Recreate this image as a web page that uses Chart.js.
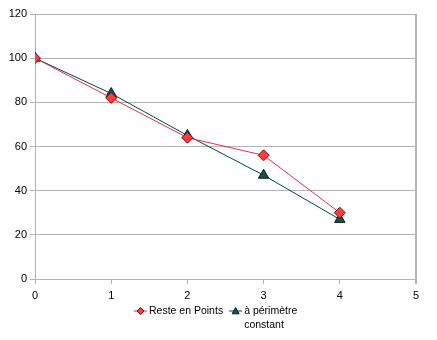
<!DOCTYPE html>
<html><head><meta charset="utf-8">
<script src="https://cdn.jsdelivr.net/npm/chart.js@4/dist/chart.umd.min.js"></script>
<style>html,body{margin:0;padding:0;background:#fff}#wrap{width:437px;height:340px;position:relative}</style>
</head><body><div id="wrap"><canvas id="c" width="437" height="340"></canvas></div>
<script>
const xValues = [0, 1, 2, 3, 4];
const resteEnPoints = [100, 82, 64, 56, 30];
const perimetreConstant = [100, 84, 65, 47, 27];
const seriesLabels = ["Reste en Points", "à périmètre constant"];
const legendLines = [["Reste en Points"], ["à périmètre", "constant"]];

const FONT = "'Liberation Sans', Arial, sans-serif";
const GRID = '#b3b3b3';

const rightBorder = {
  id: 'rightBorder',
  afterDraw(chart) {
    const {ctx, chartArea} = chart;
    ctx.save();
    ctx.strokeStyle = GRID; ctx.lineWidth = 2;
    ctx.beginPath();
    ctx.moveTo(chartArea.right, chartArea.top);
    ctx.lineTo(chartArea.right, chartArea.bottom + 5);
    ctx.stroke();
    ctx.restore();
  }
};

const customLegend = {
  id: 'customLegend',
  afterDraw(chart) {
    const ctx = chart.ctx;
    ctx.save();
    ctx.font = '10.5px ' + FONT;
    ctx.textBaseline = 'middle';
    const y = 311;
    const ds = chart.data.datasets;
    const items = [{x: 134, ds: ds[0], lines: legendLines[0]}, {x: 0, ds: ds[1], lines: legendLines[1]}];
    const w0 = ctx.measureText(legendLines[0][0]).width;
    items[1].x = 134 + 15 + w0 + 6;
    items.forEach(it => {
      const cx = it.x + 6.5;
      ctx.strokeStyle = it.ds.borderColor; ctx.lineWidth = 1;
      ctx.beginPath(); ctx.moveTo(it.x, y); ctx.lineTo(it.x + 13, y); ctx.stroke();
      ctx.fillStyle = it.ds.pointBackgroundColor; ctx.strokeStyle = it.ds.pointBorderColor;
      ctx.beginPath();
      const r = 3.5;
      if (it.ds.pointStyle === 'rectRot') {
        ctx.moveTo(cx, y - r); ctx.lineTo(cx + r, y); ctx.lineTo(cx, y + r); ctx.lineTo(cx - r, y); ctx.closePath();
      } else {
        ctx.moveTo(cx, y - r); ctx.lineTo(cx + r, y + r * 0.8); ctx.lineTo(cx - r, y + r * 0.8); ctx.closePath();
      }
      ctx.fill(); ctx.stroke();
      ctx.fillStyle = '#000';
      it.lines.forEach((t, i) => ctx.fillText(t, it.x + 15, y + i * 14));
    });
    ctx.restore();
  }
};

new Chart(document.getElementById('c'), {
  type: 'line',
  data: {
    datasets: [
      {
        label: seriesLabels[0],
        data: xValues.map((x, i) => ({x, y: resteEnPoints[i]})),
        borderColor: '#e0304a', borderWidth: 1,
        pointStyle: 'rectRot', pointRadius: 5.5, pointHoverRadius: 5.5,
        pointBackgroundColor: '#ff3b3b', pointBorderColor: '#7a1010', pointBorderWidth: 1,
        tension: 0
      },
      {
        label: seriesLabels[1],
        data: xValues.map((x, i) => ({x, y: perimetreConstant[i]})),
        borderColor: '#004848', borderWidth: 1,
        pointStyle: 'triangle', pointRadius: 6, pointHoverRadius: 6,
        pointBackgroundColor: '#1f4f45', pointBorderColor: '#002020', pointBorderWidth: 1,
        tension: 0
      }
    ]
  },
  options: {
    responsive: false, animation: false,
    layout: {padding: {top: 14, right: 21, left: 0, bottom: 0}},
    plugins: {legend: {display: false}, tooltip: {enabled: false}},
    scales: {
      x: {
        type: 'linear', min: 0, max: 5,
        ticks: {stepSize: 1, color: '#000', font: {family: FONT, size: 11}, padding: 5, maxRotation: 0},
        grid: {drawOnChartArea: false, color: GRID, tickLength: 5},
        border: {color: GRID, width: 1},
        afterFit(s) { s.height = 61; }
      },
      y: {
        min: 0, max: 120,
        ticks: {stepSize: 20, color: '#000', font: {family: FONT, size: 11}, padding: 3},
        grid: {color: GRID, tickLength: 5},
        border: {color: GRID, width: 1},
        afterFit(s) { s.width = 35; }
      }
    }
  },
  plugins: [rightBorder, customLegend]
});
</script></body></html>
